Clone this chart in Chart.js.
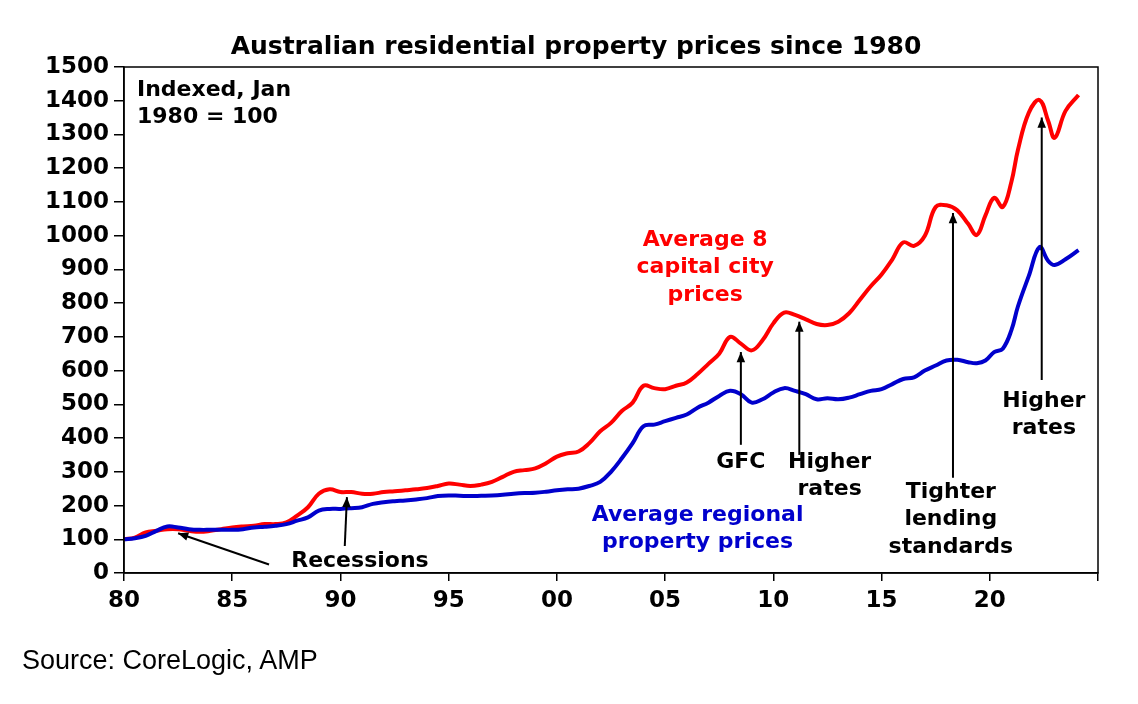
<!DOCTYPE html>
<html><head><meta charset="utf-8">
<script src="https://cdn.jsdelivr.net/npm/chart.js@4"></script>
<style>html,body{margin:0;padding:0;background:#fff}#w{position:relative;width:1138px;height:704px}
#src{position:absolute;left:22px;top:645px;font:27px "Liberation Sans",Arial,sans-serif;color:#000}</style>
</head><body><div id="w"><canvas id="c" width="1138" height="704"></canvas><div id="src">Source: CoreLogic, AMP</div></div>
<script>
const years=[1980,1980.5,1981,1981.5,1982,1982.5,1983,1983.5,1984,1984.5,1985,1985.5,1986,1986.5,1987,1987.5,1988,1988.5,1989,1989.5,1990,1990.5,1991,1991.5,1992,1992.5,1993,1993.5,1994,1994.5,1995,1995.5,1996,1996.5,1997,1997.5,1998,1998.5,1999,1999.5,2000,2000.5,2001,2001.5,2002,2002.5,2003,2003.5,2004,2004.5,2005,2005.5,2006,2006.5,2007,2007.5,2008,2008.5,2009,2009.5,2010,2010.5,2011,2011.5,2012,2012.5,2013,2013.5,2014,2014.5,2015,2015.5,2016,2016.5,2017,2017.5,2018,2018.5,2019,2019.4,2019.8,2020.2,2020.6,2021,2021.3,2021.8,2022.3,2022.7,2023,2023.5,2024.1];
const capital=[100,105,120,125,130,130,125,122,125,130,135,138,140,145,145,150,170,195,235,248,240,240,235,235,240,242,245,248,252,258,265,262,258,262,270,285,300,305,310,325,345,355,360,385,420,445,480,505,555,548,545,555,565,590,620,650,700,680,660,690,740,772,765,752,738,735,745,770,810,850,885,930,980,970,1000,1085,1090,1075,1035,1002,1060,1112,1085,1160,1254,1364,1402,1340,1290,1370,1417];
const regional=[100,103,110,125,138,135,130,128,128,128,128,130,135,137,140,145,155,165,185,190,190,192,195,205,210,213,215,218,222,228,230,229,228,229,230,232,235,237,238,241,245,248,250,258,270,300,340,385,435,440,450,460,470,490,505,525,540,530,505,515,535,548,540,530,515,518,515,520,530,540,545,560,575,580,600,615,630,632,625,622,630,655,665,720,790,880,966,925,913,930,957];
const yTicks=[0,100,200,300,400,500,600,700,800,900,1000,1100,1200,1300,1400,1500];
const F='"DejaVu Sans",sans-serif';
const texts=[
 {x:1980.6,y:1432,t:['Indexed, Jan','1980 = 100'],c:'#000',a:'left'},
 {x:2006.85,y:987,t:['Average 8','capital city','prices'],c:'#ff0000',a:'center'},
 {x:2006.5,y:172,t:['Average regional','property prices'],c:'#0000cc',a:'center'},
 {x:1990.9,y:36,t:['Recessions'],c:'#000',a:'center'},
 {x:2008.5,y:329,t:['GFC'],c:'#000',a:'center'},
 {x:2012.6,y:329,t:['Higher','rates'],c:'#000',a:'center'},
 {x:2018.2,y:240,t:['Tighter','lending','standards'],c:'#000',a:'center'},
 {x:2022.5,y:510,t:['Higher','rates'],c:'#000',a:'center'}];
const arrows=[[1986.7,25,1982.5,118],[1990.2,80,1990.3,225],[2008.5,380,2008.5,655],[2011.2,350,2011.2,745],[2018.3,282,2018.3,1067],[2022.4,572,2022.4,1350]];
const ann={id:'ann',afterDatasetsDraw(ch){const {ctx,scales:{x,y},chartArea:ca}=ch;ctx.save();
 ctx.strokeStyle='#000';ctx.lineWidth=1.5;ctx.strokeRect(ca.left,ca.top,ca.right-ca.left,ca.bottom-ca.top);
 ctx.fillStyle='#000';ctx.font='bold 25px '+F;ctx.textAlign='center';ctx.textBaseline='middle';
 ctx.fillText('Australian residential property prices since 1980',576,47);
 ctx.font='bold 22px '+F;
 texts.forEach(o=>{ctx.fillStyle=o.c;ctx.textAlign=o.a;o.t.forEach((l,i)=>ctx.fillText(l,x.getPixelForValue(o.x),y.getPixelForValue(o.y)+i*27.5));});
 ctx.strokeStyle='#000';ctx.fillStyle='#000';ctx.lineWidth=2;
 arrows.forEach(a=>{const x1=x.getPixelForValue(a[0]),y1=y.getPixelForValue(a[1]),x2=x.getPixelForValue(a[2]),y2=y.getPixelForValue(a[3]);
  const ang=Math.atan2(y2-y1,x2-x1);ctx.beginPath();ctx.moveTo(x1,y1);ctx.lineTo(x2,y2);ctx.stroke();
  ctx.beginPath();ctx.moveTo(x2,y2);ctx.lineTo(x2-11*Math.cos(ang-0.4),y2-11*Math.sin(ang-0.4));ctx.lineTo(x2-11*Math.cos(ang+0.4),y2-11*Math.sin(ang+0.4));ctx.closePath();ctx.fill();});
 ctx.restore();}};
new Chart(document.getElementById('c'),{type:'line',
 data:{datasets:[
  {data:years.map((v,i)=>({x:v,y:regional[i]})),borderColor:'#0000cc',borderWidth:4,pointRadius:0,tension:0.4},
  {data:years.map((v,i)=>({x:v,y:capital[i]})),borderColor:'#ff0000',borderWidth:4,pointRadius:0,tension:0.4}]},
 options:{responsive:false,animation:false,layout:{padding:{left:0,right:40,top:67,bottom:0}},
  plugins:{legend:{display:false},tooltip:{enabled:false}},
  scales:{x:{type:'linear',min:1980,max:2025,afterBuildTicks(ax){ax.ticks=[1980,1985,1990,1995,2000,2005,2010,2015,2020,2025].map(v=>({value:v}));},
    afterFit(ax){ax.height=131;},
    ticks:{color:'#000',font:{family:F,size:23,weight:'bold'},callback:v=>v>=2025?'':String(v%100).padStart(2,'0'),maxRotation:0,padding:6},
    grid:{drawOnChartArea:false,color:'#000',tickLength:8,lineWidth:1.5},border:{color:'#000',width:1.5}},
   y:{min:0,max:1500,afterBuildTicks(ax){ax.ticks=yTicks.map(v=>({value:v}));},
    afterFit(ax){ax.width=124;},
    ticks:{color:'#000',font:{family:F,size:23,weight:'bold'},callback:v=>String(v),padding:5},
    grid:{drawOnChartArea:false,color:'#000',tickLength:10,lineWidth:1.5},border:{color:'#000',width:1.5}}}},
 plugins:[ann]});
</script></body></html>
